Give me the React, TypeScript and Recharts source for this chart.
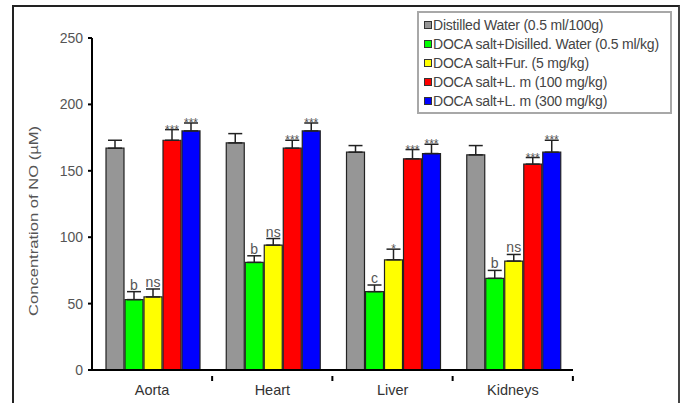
import React from 'react';
import {
  BarChart,
  Bar,
  XAxis,
  YAxis,
  ErrorBar,
  LabelList,
} from 'recharts';

const organs = ['Aorta', 'Heart', 'Liver', 'Kidneys'];

const groupNames = [
  'Distilled Water (0.5 ml/100g)',
  'DOCA salt+Disilled. Water (0.5 ml/kg)',
  'DOCA salt+Fur. (5 mg/kg)',
  'DOCA salt+L. m (100 mg/kg)',
  'DOCA salt+L. m (300 mg/kg)',
];
const groupColors = ['#969696', '#00ff00', '#ffff00', '#ff0000', '#0000ff'];

// mean NO per organ, one array per group
const water = [167, 171, 164, 162];
const docaWater = [53, 81, 59, 69];
const docaFur = [55, 94, 83, 82];
const docaLm100 = [173, 167, 159, 155];
const docaLm300 = [180, 180, 163, 164];

// SEM
const waterErr = [6, 7, 5, 7];
const docaWaterErr = [6, 5, 5, 6];
const docaFurErr = [6, 5, 8, 5];
const docaLm100Err = [8, 6, 7, 5];
const docaLm300Err = [6, 6, 7, 9];

// significance marks
const docaWaterSig = ['b', 'b', 'c', 'b'];
const docaFurSig = ['ns', 'ns', '*', 'ns'];
const docaLm100Sig = ['***', '***', '***', '***'];
const docaLm300Sig = ['***', '***', '***', '***'];

const yTicks = [0, 50, 100, 150, 200, 250];

const means = [water, docaWater, docaFur, docaLm100, docaLm300];
const errs = [waterErr, docaWaterErr, docaFurErr, docaLm100Err, docaLm300Err];
const sigs: (string[] | null)[] = [null, docaWaterSig, docaFurSig, docaLm100Sig, docaLm300Sig];

const data = organs.map((organ, i) => {
  const row: any = { organ };
  means.forEach((m, g) => {
    row[`g${g}`] = m[i];
    row[`e${g}`] = [0, errs[g][i]];
    row[`s${g}`] = sigs[g] ? sigs[g]![i] : '';
  });
  return row;
});

const textFont = '"Liberation Sans", Arial, sans-serif';

const SigLabel = (g: number) => (props: any) => {
  const { x, y, width, height, index } = props;
  const sig = sigs[g] ? sigs[g]![index] : '';
  if (!sig) return null;
  const v = means[g][index];
  const errPx = (errs[g][index] * height) / v;
  const isStar = sig.includes('*');
  return (
    <text
      x={x + width / 2}
      y={y - errPx - (isStar ? -4 : 2)}
      textAnchor="middle"
      fill="#555"
      fontSize={isStar ? 12 : 14}
      fontFamily={textFont}
    >
      {sig}
    </text>
  );
};

const OrganTick = (props: any) => {
  const { x, y, payload } = props;
  return (
    <g>
      <line x1={x + 60} y1={y - 2} x2={x + 60} y2={y + 3} stroke="#000" strokeWidth={2} />
      <text x={x} y={y + 17} textAnchor="middle" fill="#333" fontSize={14.5} fontFamily={textFont}>
        {payload.value}
      </text>
    </g>
  );
};

const LegendBox = () => (
  <div
    style={{
      position: 'absolute',
      left: 417,
      top: 11,
      width: 242,
      border: '2px solid #a8a8a8',
      background: '#fff',
      padding: '2px 4px 2px 5px',
      fontFamily: textFont,
      fontSize: 14,
      color: '#444',
      boxSizing: 'content-box',
      whiteSpace: 'nowrap',
    }}
  >
    {groupNames.map((name, i) => (
      <div key={name} style={{ display: 'flex', alignItems: 'center', height: 19 }}>
        <span
          style={{
            display: 'inline-block',
            flex: 'none',
            width: 6,
            height: 6,
            background: groupColors[i],
            border: '1.5px solid #333',
            marginRight: 1,
          }}
        />
        <span style={{ letterSpacing: -0.2 }}>{name}</span>
      </div>
    ))}
  </div>
);

const YLabel = () => (
  <text
    x={33}
    y={221}
    transform="rotate(-90 33 221)"
    textAnchor="middle"
    dominantBaseline="central"
    fill="#555"
    fontSize={13}
    fontFamily={textFont}
    textLength={190}
    lengthAdjust="spacingAndGlyphs"
  >
    Concentration of NO (µM)
  </text>
);

export default function App() {
  return (
    <div style={{ position: 'absolute', left: 0, top: 0, width: 683, height: 403, background: '#fff' }}>
      <div
        style={{
          position: 'absolute',
          left: 12,
          top: 5,
          width: 664,
          height: 400,
          borderLeft: '2px solid #222',
          borderTop: '2px solid #222',
          borderRight: '2px solid #444',
        }}
      />
      <BarChart
        width={683}
        height={403}
        data={data}
        margin={{ top: 38, right: 110, bottom: 3, left: 0 }}
        barCategoryGap={14}
        barGap={1}
        style={{ position: 'absolute', left: 0, top: 0 }}
      >
        <XAxis
          dataKey="organ"
          height={30}
          axisLine={{ stroke: '#000', strokeWidth: 2 }}
          tickLine={false}
          tick={<OrganTick />}
          interval={0}
        />
        <YAxis
          width={92}
          domain={[0, 250]}
          ticks={yTicks}
          axisLine={{ stroke: '#000', strokeWidth: 2 }}
          tickLine={{ stroke: '#000', strokeWidth: 2 }}
          tickSize={4}
          tickMargin={5}
          tick={{ fill: '#555', fontSize: 14, fontFamily: textFont }}
          label={<YLabel />}
        />
        {groupNames.map((name, g) => (
          <Bar
            key={name}
            dataKey={`g${g}`}
            name={name}
            fill={groupColors[g]}
            stroke="#222"
            strokeWidth={1.2}
            isAnimationActive={false}
          >
            <ErrorBar dataKey={`e${g}`} direction="y" width={7} stroke="#222" strokeWidth={1.5} />
            <LabelList dataKey={`s${g}`} content={SigLabel(g)} />
          </Bar>
        ))}
      </BarChart>
      <LegendBox />
    </div>
  );
}
